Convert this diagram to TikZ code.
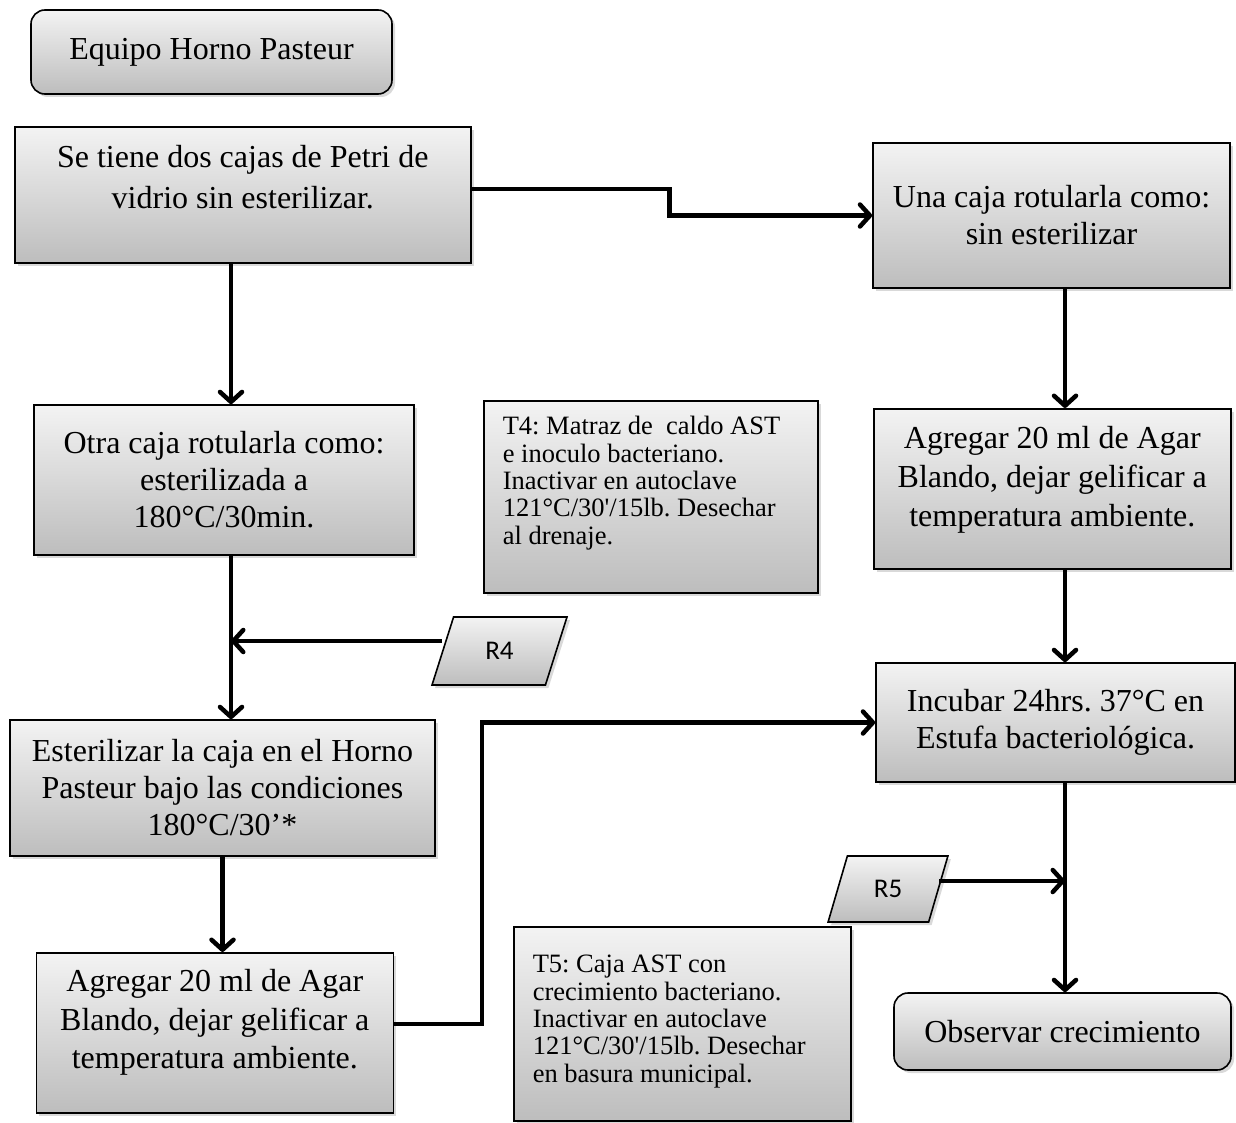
\documentclass[tikz,border=0pt]{standalone}
\usepackage{fontspec}
\setmainfont{Liberation Serif}[Ligatures=TeXOff]
\newfontfamily\calibri{Carlito}
\usepackage{xcolor}
\usepackage{tikz}
\usetikzlibrary{arrows.meta,positioning,calc,shapes.geometric,shadows}
\definecolor{cTop}{HTML}{F3F3F3}
\definecolor{cBot}{HTML}{BDBDBD}
\frenchspacing
\tikzset{
  pbox/.style={draw=black,line width=1.6pt,top color=cTop,bottom color=cBot,align=center,inner sep=0pt,
    font=\fontsize{32}{37}\selectfont,drop shadow={shadow xshift=3pt,shadow yshift=-3pt,opacity=0.3}},
  rbox/.style={pbox,rounded corners=14pt},
  % tbox/note: fixed text height+depth = box height, text set from the top
  tbox/.style={pbox,anchor=north west,align=flush center},
  note/.style={pbox,anchor=north west,align=flush left,inner xsep=19pt,inner ysep=0pt,
    font=\fontsize{26.5}{27.3}\selectfont},
  rdata/.style={pbox,trapezium,trapezium left angle=69,trapezium right angle=111,trapezium stretches=true,
    font=\calibri\fontsize{27}{30}\selectfont},
  arr/.style={-{Straight Barb[length=10pt,width=22pt,round]},line width=4.5pt,color=black},
}

\begin{document}
\begin{tikzpicture}[x=1pt,y=-1pt]
  \useasboundingbox (0,0) rectangle (1236,1123);
  \node[rbox,minimum width=361pt,minimum height=84pt] (equipo) at (211.5,52) {Equipo Horno Pasteur};
  \node[tbox,text width=456pt,text height=41pt,text depth=95pt,font=\fontsize{32}{41}\selectfont] (cajas) at (14,126) {Se tiene dos cajas de Petri de\\vidrio sin esterilizar.};
  \node[pbox,minimum width=357pt,minimum height=145pt] (sinest) at (1051.5,215.5) {Una caja rotularla como:\\sin esterilizar};
  \node[pbox,minimum width=380pt,minimum height=150pt] (otra) at (224,480) {Otra caja rotularla como:\\esterilizada a\\180°C/30min.};
  \node[note,text width=296pt,text height=34pt,text depth=158pt] (t4) at (483,400) {T4: Matraz de\ \ caldo AST\\e inoculo bacteriano.\\Inactivar en autoclave\\121°C/30'/15lb. Desechar\\al drenaje.};
  \node[tbox,text width=357pt,text height=40pt,text depth=120pt,font=\fontsize{32}{39}\selectfont] (agarder) at (873,408) {Agregar 20 ml de Agar\\Blando, dejar gelificar a\\temperatura ambiente.};
  \node[rdata,minimum width=135pt,minimum height=68pt] (r4) at (499.5,651) {R4};
  \node[pbox,minimum width=359pt,minimum height=119pt] (incubar) at (1055.5,722.5) {Incubar 24hrs. 37°C en\\Estufa bacteriológica.};
  \node[pbox,minimum width=425pt,minimum height=136pt] (esterilizar) at (222.5,788) {Esterilizar la caja en el Horno\\Pasteur bajo las condiciones\\180°C/30’*};
  \node[rdata,minimum width=120pt,minimum height=66pt] (r5) at (888,889) {R5};
  \node[note,text width=299pt,text height=46pt,text depth=148pt] (t5) at (513,926) {T5: Caja AST con\\crecimiento bacteriano.\\Inactivar en autoclave\\121°C/30'/15lb. Desechar\\en basura municipal.};
  \node[tbox,text width=357pt,text height=39pt,text depth=121pt,font=\fontsize{32}{38.5}\selectfont] (agarizq) at (35.5,952) {Agregar 20 ml de Agar\\Blando, dejar gelificar a\\temperatura ambiente.};
  \node[rbox,minimum width=337pt,minimum height=77pt] (observar) at (1062.5,1031.5) {Observar crecimiento};
  \coordinate (lc) at (231,0);
  \coordinate (rc) at (1065,0);
  \draw[arr] ([yshift=6pt]cajas.east) -- ++(198,0) |- (sinest.west);
  \draw[arr] (cajas.south -| lc) -- (otra.north -| lc);
  \draw[arr] (otra.south -| lc) -- (esterilizar.north -| lc);
  \draw[arr] ([yshift=10pt]r4.west) -- ([yshift=10pt]r4.west -| lc);
  \draw[arr] (esterilizar.south) -- (esterilizar.south |- agarizq.north);
  \draw[arr] ([yshift=9pt]agarizq.east) -- ++(88,0) |- (incubar.west);
  \draw[arr] (sinest.south -| rc) -- (agarder.north -| rc);
  \draw[arr] (agarder.south -| rc) -- (incubar.north -| rc);
  \draw[arr] (incubar.south -| rc) -- (observar.north -| rc);
  \draw[arr] ([yshift=8pt]r5.east) -- ([yshift=8pt]r5.east -| rc);
\end{tikzpicture}
\end{document}
